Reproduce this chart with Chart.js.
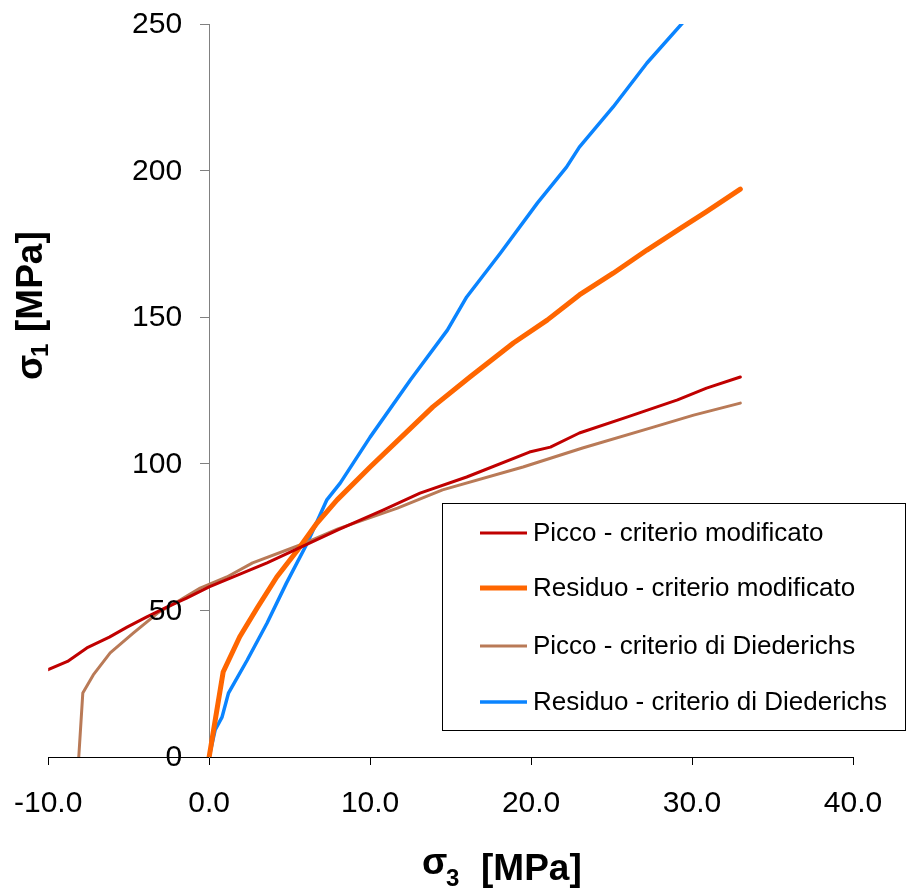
<!DOCTYPE html>
<html>
<head>
<meta charset="utf-8">
<script src="https://cdn.jsdelivr.net/npm/chart.js@4"></script>
<style>
  html, body { margin: 0; padding: 0; background: #fff; }
  #wrap { position: relative; width: 907px; height: 888px; }
</style>
</head>
<body>
<div id="wrap"><canvas id="chart"></canvas></div>
<script>
// sigma3 / sigma1 pairs (MPa)
const piccoModX = [-10, -8.8, -7.6, -6.2, -5.1, -3.9, -2.6, -1.4, 0, 1.5, 3.6, 5.7, 8, 10.8, 13.1, 16, 19.9, 21.2, 23, 26, 29.1, 30.9, 33];
const piccoModY = [29.8, 32.6, 37.2, 40.9, 44.3, 47.7, 51.2, 54.2, 58, 61.4, 66.2, 71.6, 77.5, 84.2, 90, 95.5, 104, 105.7, 110.5, 116, 121.8, 125.8, 129.6];

const residuoModX = [0, 0.87, 1.9, 3, 4.2, 5.5, 6.7, 7.95, 10, 13.9, 16.2, 18.9, 21, 23, 25.1, 27.2, 29.3, 30.9, 33];
const residuoModY = [0, 29, 41, 51, 61.4, 70.6, 79.8, 87.7, 98.9, 119.4, 129.6, 141.2, 149, 157.6, 165, 172.9, 180.4, 186, 193.7];

const piccoDiedX = [-8.1, -7.85, -7.2, -6.15, -4.7, -3.2, -1.8, -0.56, 1.1, 2.7, 5.65, 8, 11.7, 14.5, 19.5, 23.2, 27.6, 30.1, 33];
const piccoDiedY = [0, 21.8, 28, 35.5, 42.3, 49.1, 53.5, 57.6, 61.4, 66.2, 72.3, 77.8, 84.9, 91.1, 98.9, 105.4, 112.5, 116.6, 120.7];

const residuoDiedX = [0, 0.37, 0.8, 1.2, 2.36, 3.6, 4.8, 6.1, 7.3, 8.14, 10, 12.5, 14.8, 16, 18.1, 20.4, 22.2, 23, 25.1, 27.2, 29.4];
const residuoDiedY = [0, 9.2, 13.6, 21.8, 33, 45.7, 59.3, 73, 87.6, 93.4, 109.1, 128.6, 145.6, 156.9, 171.9, 189, 201.2, 208, 221.7, 236.7, 250.3];

const seriesLabels = [
  "Picco - criterio modificato",
  "Residuo - criterio modificato",
  "Picco - criterio di Diederichs",
  "Residuo - criterio di Diederichs",
];

const FONT = '"Liberation Sans", Arial, sans-serif';

function toPoints(xs, ys) {
  return xs.map((x, i) => ({ x: x, y: ys[i] }));
}

function lineSet(label, xs, ys, color, width) {
  return {
    label: label,
    data: toPoints(xs, ys),
    showLine: true,
    borderColor: color,
    backgroundColor: color,
    borderWidth: width,
    pointRadius: 0,
    tension: 0,
    borderCapStyle: "round",
    borderJoinStyle: "round",
  };
}

// legend box, y tick labels and axis titles drawn by hand so they sit where the original has them
const decorations = {
  id: "decorations",
  afterDraw(chart) {
    const ctx = chart.ctx;
    const ys = chart.scales.y;
    const axisX = chart.scales.x.getPixelForValue(0);
    ctx.save();

    // y tick labels, left of the axis at x = 0
    ctx.fillStyle = "#000";
    ctx.font = "30px " + FONT;
    ctx.textAlign = "right";
    ctx.textBaseline = "middle";
    ys.ticks.forEach((t) => {
      ctx.fillText(String(t.value), axisX - 27, ys.getPixelForValue(t.value) + 1);
    });

    // legend
    ctx.strokeStyle = "#000";
    ctx.lineWidth = 1;
    ctx.strokeRect(442.5, 503.5, 463, 227);
    const rows = [533, 588, 646, 702];
    ctx.font = "26px " + FONT;
    ctx.textAlign = "left";
    chart.data.datasets.forEach((ds, i) => {
      ctx.strokeStyle = ds.borderColor;
      ctx.lineWidth = ds.borderWidth;
      ctx.beginPath();
      ctx.moveTo(480, rows[i]);
      ctx.lineTo(527, rows[i]);
      ctx.stroke();
      ctx.fillText(ds.label, 533, rows[i] + 1);
    });

    // x title
    ctx.textBaseline = "alphabetic";
    ctx.font = "bold 37px " + FONT;
    ctx.fillText("σ", 422, 874);
    ctx.font = "bold 24px " + FONT;
    ctx.fillText("3", 446, 886);
    ctx.font = "bold 37px " + FONT;
    ctx.fillText("[MPa]", 481, 880);

    // y title
    ctx.translate(42, 380);
    ctx.rotate(-Math.PI / 2);
    ctx.font = "bold 37px " + FONT;
    ctx.fillText("σ", 0, 0);
    ctx.font = "bold 24px " + FONT;
    ctx.fillText("1", 23, 6);
    ctx.font = "bold 37px " + FONT;
    ctx.fillText("[MPa]", 48, 0);

    ctx.restore();
  },
};

new Chart(document.getElementById("chart"), {
  type: "scatter",
  data: {
    datasets: [
      lineSet(seriesLabels[0], piccoModX, piccoModY, "#C00000", 3),
      lineSet(seriesLabels[1], residuoModX, residuoModY, "#FF6600", 5),
      lineSet(seriesLabels[2], piccoDiedX, piccoDiedY, "#B97A57", 3),
      lineSet(seriesLabels[3], residuoDiedX, residuoDiedY, "#0A84FF", 3.5),
    ],
  },
  options: {
    responsive: true,
    maintainAspectRatio: false,
    animation: false,
    layout: { padding: { left: 40, right: 54, top: 24, bottom: 45 } },
    plugins: {
      legend: { display: false },
      tooltip: { enabled: false },
    },
    scales: {
      x: {
        type: "linear",
        min: -10,
        max: 40,
        ticks: {
          stepSize: 10,
          color: "#000",
          font: { family: FONT, size: 30, lineHeight: 50 / 30 },
          padding: 14,
          maxRotation: 0,
          callback: (v) => v.toFixed(1),
        },
        grid: { drawOnChartArea: false, drawTicks: true, tickLength: 8, color: "#000" },
        border: { color: "#000", width: 1 },
      },
      y: {
        type: "linear",
        position: { x: 0 },
        min: 0,
        max: 250,
        ticks: { stepSize: 50, display: false },
        grid: { drawOnChartArea: false, drawTicks: true, tickLength: 9, color: "#808080" },
        border: { color: "#808080", width: 1 },
      },
    },
  },
  plugins: [decorations],
});
</script>
</body>
</html>
